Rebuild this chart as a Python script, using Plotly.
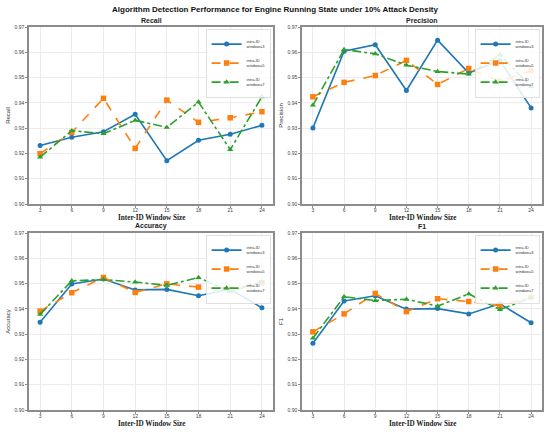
import plotly.graph_objects as go

window_sizes = [3, 6, 9, 12, 15, 18, 21, 24]
series_names = ["intra-ID<br>window=3", "intra-ID<br>window=5", "intra-ID<br>window=7"]
metric_names = ["Recall", "Precision", "Accuracy", "F1"]
x_title = "Inter-ID Window Size"

recall_w3 = [0.9231, 0.9264, 0.9286, 0.9355, 0.9171, 0.9252, 0.9276, 0.9311]
recall_w5 = [0.9199, 0.9283, 0.9418, 0.9220, 0.9411, 0.9323, 0.9341, 0.9365]
recall_w7 = [0.9185, 0.9290, 0.9278, 0.9331, 0.9303, 0.9403, 0.9215, 0.9424]

precision_w3 = [0.9301, 0.9604, 0.9630, 0.9449, 0.9648, 0.9518, 0.9568, 0.9380]
precision_w5 = [0.9424, 0.9481, 0.9508, 0.9568, 0.9473, 0.9536, 0.9485, 0.9528]
precision_w7 = [0.9391, 0.9611, 0.9594, 0.9549, 0.9524, 0.9514, 0.9590, 0.9464]

accuracy_w3 = [0.9347, 0.9498, 0.9518, 0.9475, 0.9477, 0.9452, 0.9478, 0.9404]
accuracy_w5 = [0.9391, 0.9464, 0.9524, 0.9465, 0.9499, 0.9486, 0.9479, 0.9503]
accuracy_w7 = [0.9378, 0.9511, 0.9516, 0.9506, 0.9493, 0.9524, 0.9468, 0.9508]

f1_w3 = [0.9264, 0.9431, 0.9452, 0.9399, 0.9401, 0.9380, 0.9420, 0.9345]
f1_w5 = [0.9309, 0.9380, 0.9461, 0.9389, 0.9440, 0.9429, 0.9412, 0.9446]
f1_w7 = [0.9284, 0.9448, 0.9433, 0.9438, 0.9411, 0.9459, 0.9397, 0.9444]

y_ticks = [0.90, 0.91, 0.92, 0.93, 0.94, 0.95, 0.96, 0.97]

data = [
    [recall_w3, recall_w5, recall_w7],
    [precision_w3, precision_w5, precision_w7],
    [accuracy_w3, accuracy_w5, accuracy_w7],
    [f1_w3, f1_w5, f1_w7],
]

colors = ["#1f77b4", "#ff7f0e", "#2ca02c"]
dashes = ["solid", "dash", "dashdot"]
symbols = ["circle", "square", "triangle-up"]

W, H = 550, 435
xdoms = [[29 / W, 273 / W], [302 / W, 542 / W]]
ydoms = [[1 - 204 / H, 1 - 27 / H], [1 - 410 / H, 1 - 233 / H]]

fig = go.Figure()
layout = dict(
    template="none",
    width=W, height=H, margin=dict(l=0, r=0, t=0, b=0, autoexpand=False),
    paper_bgcolor="white", plot_bgcolor="white",
    showlegend=True,
    font=dict(family="Liberation Sans, Arial, sans-serif", color="#333333"),
)
annotations = []

for i, metric in enumerate(metric_names):
    r, c = divmod(i, 2)
    n = i + 1
    xa = "x" if n == 1 else f"x{n}"
    ya = "y" if n == 1 else f"y{n}"
    lg = "legend" if n == 1 else f"legend{n}"
    for j in range(3):
        fig.add_trace(go.Scatter(
            x=window_sizes, y=data[i][j], mode="lines+markers",
            name=series_names[j],
            line=dict(color=colors[j], width=1.6, dash=dashes[j]),
            marker=dict(symbol=symbols[j], size=5 if j == 0 else 5.5, color=colors[j]),
            xaxis=xa, yaxis=ya, legend=lg,
        ))
    axcommon = dict(
        automargin=False,
        showline=True, linecolor="#8c8c8c", linewidth=1.5, mirror=True,
        ticks="outside", ticklen=2, tickcolor="#8c8c8c", tickwidth=1,
        showgrid=True, gridcolor="#ececec", gridwidth=0.8,
        zeroline=False, tickfont=dict(size=5, color="#444444"),
    )
    layout[f"xaxis{n if n > 1 else ''}"] = dict(
        axcommon, domain=xdoms[c], anchor=ya, range=[1.95, 25.05],
        tickmode="array", tickvals=window_sizes,
        ticktext=[str(v) for v in window_sizes],
        ticklabelstandoff=-2,
    )
    layout[f"yaxis{n if n > 1 else ''}"] = dict(
        axcommon, domain=ydoms[r], anchor=xa, range=[0.90, 0.97],
        tickmode="array", tickvals=y_ticks,
        ticktext=[f"{v:.2f}" for v in y_ticks],
        title=dict(text=metric, font=dict(size=6, color="#333333"), standoff=3),
    )
    layout[lg] = dict(
        x=xdoms[c][1] - 2 / W, y=ydoms[r][1] - 2 / H,
        xanchor="right", yanchor="top",
        bgcolor="rgba(255,255,255,0.85)", bordercolor="#cccccc", borderwidth=0.6,
        font=dict(size=4, color="#333333"),
        itemwidth=30, tracegroupgap=0, itemsizing="trace",
    )
    annotations.append(dict(
        text=f"<b>{metric}</b>", x=(xdoms[c][0] + xdoms[c][1]) / 2,
        y=ydoms[r][1] + 1 / H, xref="paper", yref="paper",
        xanchor="center", yanchor="bottom", showarrow=False,
        font=dict(size=7, color="#222222"),
    ))
    annotations.append(dict(
        text=f"<b>{x_title}</b>", x=(xdoms[c][0] + xdoms[c][1]) / 2,
        y=ydoms[r][0] - 14 / H, xref="paper", yref="paper",
        xanchor="center", yanchor="middle", showarrow=False,
        font=dict(family="Liberation Serif, Times New Roman, serif", size=7.2, color="#222222"),
    ))

annotations.append(dict(
    text="<b>Algorithm Detection Performance for Engine Running State under 10% Attack Density</b>",
    x=0.5, y=1 - 3 / H, xref="paper", yref="paper", xanchor="center", yanchor="top",
    showarrow=False, font=dict(size=8, color="#111111"),
))
layout["annotations"] = annotations
fig.update_layout(**layout)
fig.write_html("out.html", config={"displayModeBar": False},
               post_script="document.body.style.margin='0px';document.body.style.overflow='hidden';")
